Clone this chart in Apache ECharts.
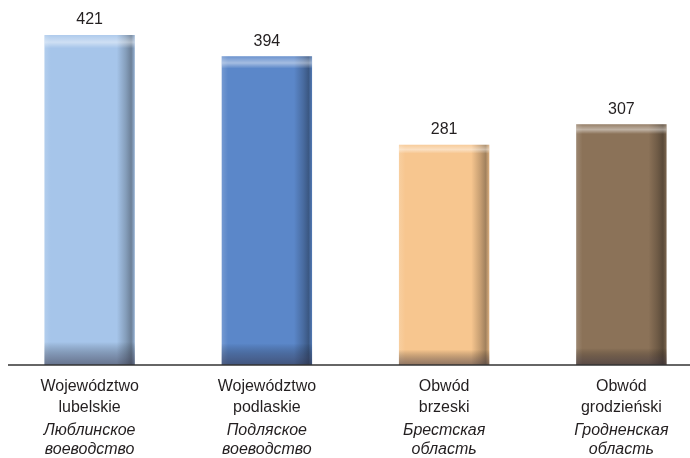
<!DOCTYPE html>
<html><head><meta charset="utf-8">
<script src="https://cdn.jsdelivr.net/npm/echarts@6/dist/echarts.min.js"></script>
<style>html,body{margin:0;padding:0;background:#fff}#c{width:690px;height:458px}</style>
</head><body><div id="c"></div>
<script>
const categoriesPL = [['Województwo','lubelskie'],['Województwo','podlaskie'],['Obwód','brzeski'],['Obwód','grodzieński']];
const categoriesRU = [['Люблинское','воеводство'],['Подляское','воеводство'],['Брестская','область'],['Гродненская','область']];
const values = [421, 394, 281, 307];
const colors = ['#a6c5ea', '#5b87c9', '#f7c68f', '#8b7258'];

const cats = categoriesPL.map((p,i)=>'{a|'+p[0]+'}\n{a|'+p[1]+'}\n{c|'+categoriesRU[i][0]+'}\n{b|'+categoriesRU[i][1]+'}');

function shade(hex, f){
  const n=parseInt(hex.slice(1),16);let r=n>>16,g=(n>>8)&255,b=n&255;
  if(f<0){r=r*(1+f);g=g*(1+f);b=b*(1+f);}else{r=r+(255-r)*f;g=g+(255-g)*f;b=b+(255-b)*f;}
  return 'rgb('+Math.round(r)+','+Math.round(g)+','+Math.round(b)+')';
}
const baseData = values.map((v,i)=>({value:v,itemStyle:{color:{type:'linear',x:0,y:0,x2:1,y2:0,colorStops:[
  {offset:0,color:shade(colors[i],0.15)},{offset:0.07,color:colors[i]},{offset:0.8,color:colors[i]},
  {offset:0.9,color:shade(colors[i],-0.2)},{offset:0.96,color:shade(colors[i],-0.35)},{offset:1,color:shade(colors[i],-0.1)}]}}}));
const overlayData = values.map(v=>({value:v}));

const font = 'Liberation Sans, Arial, sans-serif';
const chart = echarts.init(document.getElementById('c'),null,{renderer:'canvas'});
chart.setOption({
  animation:false,
  grid:{left:1,width:709,top:35,bottom:93,outerBoundsMode:'none',containLabel:false},
  xAxis:{type:'category',data:cats,axisTick:{show:false},
    axisLine:{show:false},
    axisLabel:{interval:0,margin:11,color:'#231f20',
      rich:{
        a:{fontFamily:font,fontSize:16,lineHeight:21,color:'#231f20'},
        c:{fontFamily:font,fontSize:16,fontStyle:'italic',lineHeight:21,padding:[5,0,0,0],color:'#231f20'},
        b:{fontFamily:font,fontSize:16,fontStyle:'italic',lineHeight:21,color:'#231f20'}
      }}},
  yAxis:{type:'value',min:0,max:421,show:false,splitLine:{show:false}},
  series:[
    {type:'bar',data:baseData,barWidth:'51%',
     label:{show:true,position:'top',distance:7,color:'#231f20',fontFamily:font,fontSize:16}},
    {type:'bar',data:overlayData,barWidth:'51%',barGap:'-100%',silent:true,
     itemStyle:{color:{type:'linear',x:0,y:0,x2:0,y2:1,colorStops:[
       {offset:0,color:'rgba(255,255,255,0.1)'},{offset:0.022,color:'rgba(255,255,255,0.45)'},
       {offset:0.04,color:'rgba(255,255,255,0)'},{offset:0.93,color:'rgba(0,0,0,0)'},
       {offset:0.975,color:'rgba(40,35,50,0.35)'},{offset:1,color:'rgba(40,35,50,0.5)'}]}}}
  ]
});
const y0 = chart.convertToPixel({gridIndex:0},[0,0])[1];
chart.setOption({graphic:[{type:'line',shape:{x1:8,y1:y0,x2:690,y2:y0},style:{stroke:'#333',lineWidth:1.5},z:10}]});
</script></body></html>
